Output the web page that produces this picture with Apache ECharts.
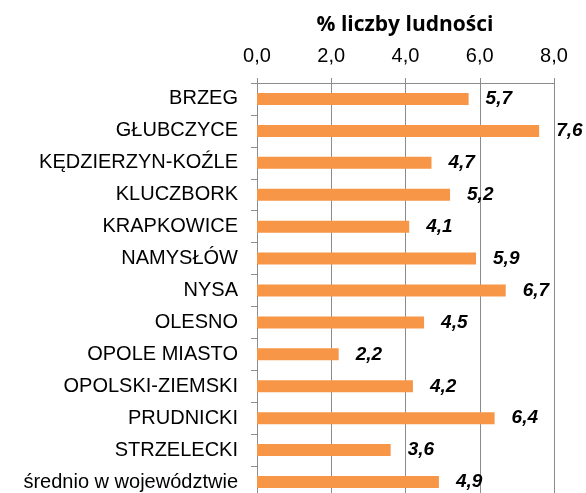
<!DOCTYPE html>
<html>
<head>
<meta charset="utf-8">
<script src="https://cdn.jsdelivr.net/npm/echarts@6/dist/echarts.min.js"></script>
<style>
  html, body { margin: 0; padding: 0; background: #fff; }
  #main { width: 586px; height: 493px; }
</style>
</head>
<body>
<div id="main"></div>
<script>
// dane z wykresu
var categories = ['BRZEG', 'GŁUBCZYCE', 'KĘDZIERZYN-KOŹLE', 'KLUCZBORK', 'KRAPKOWICE',
    'NAMYSŁÓW', 'NYSA', 'OLESNO', 'OPOLE MIASTO', 'OPOLSKI-ZIEMSKI', 'PRUDNICKI',
    'STRZELECKI', 'średnio w województwie'];
var values = [5.7, 7.6, 4.7, 5.2, 4.1, 5.9, 6.7, 4.5, 2.2, 4.2, 6.4, 3.6, 4.9];
var axisTicks = [0, 2, 4, 6, 8];
var titleText = '% liczby ludności';

function fmt(v) {
    return v.toFixed(1).replace('.', ',');
}

var gridColor = '#8c8c8c';

var option = {
    animation: false,
    graphic: [{
        type: 'text',
        x: 405,
        y: 25,
        style: {
            text: titleText,
            textAlign: 'center',
            textVerticalAlign: 'middle',
            fontFamily: '"Open Sans", sans-serif',
            fontWeight: 'bold',
            fontSize: 21,
            fill: '#000'
        }
    }],
    grid: {
        left: 257,
        right: 32,
        top: 83,
        height: 415,
        containLabel: false,
        outerBoundsMode: 'none'
    },
    xAxis: {
        type: 'value',
        position: 'top',
        min: axisTicks[0],
        max: axisTicks[axisTicks.length - 1],
        interval: 2,
        axisLine: { show: true, lineStyle: { color: gridColor, width: 1 } },
        axisTick: { show: true, inside: false, length: 5, lineStyle: { color: gridColor } },
        splitLine: { show: true, lineStyle: { color: gridColor, width: 1 } },
        axisLabel: {
            margin: 17,
            color: '#000',
            fontFamily: '"Liberation Sans", Arial, sans-serif',
            fontSize: 20,
            formatter: function (v) { return fmt(v); }
        }
    },
    yAxis: {
        type: 'category',
        inverse: true,
        data: categories,
        axisLine: { show: true, lineStyle: { color: gridColor, width: 1 } },
        axisTick: { show: true, length: 6, lineStyle: { color: gridColor } },
        axisLabel: {
            margin: 19,
            color: '#000',
            fontFamily: '"Liberation Sans", Arial, sans-serif',
            fontSize: 20
        }
    },
    series: [{
        type: 'bar',
        data: values,
        barWidth: 12,
        itemStyle: { color: '#f79646' },
        label: {
            show: true,
            position: 'right',
            distance: 17,
            color: '#000',
            fontFamily: '"Liberation Sans", Arial, sans-serif',
            fontWeight: 'bold',
            fontStyle: 'italic',
            fontSize: 19,
            formatter: function (p) { return fmt(p.value); }
        }
    }]
};

var myChart = echarts.init(document.getElementById('main'));
myChart.setOption(option);
</script>
</body>
</html>
